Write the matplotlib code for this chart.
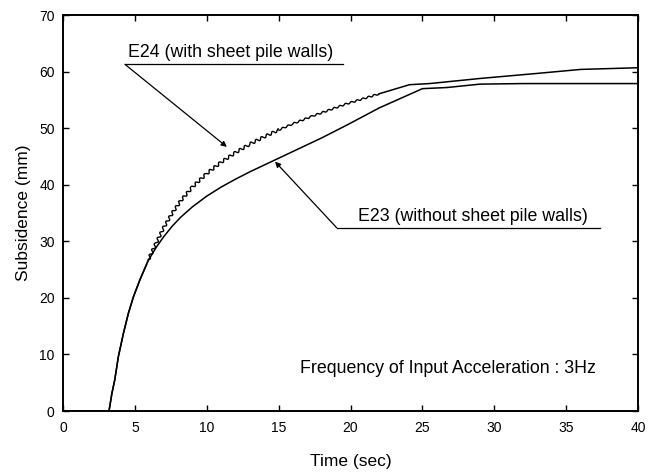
import matplotlib
matplotlib.use("Agg")
import matplotlib.pyplot as plt
import numpy as np

plt.rcParams['font.family'] = ['Liberation Sans', 'DejaVu Sans']

# Data
e24_t = [0.0, 3.2, 3.4, 3.6, 3.85, 4.2, 4.55, 4.9, 5.35, 5.95, 6.5, 7.0, 7.6, 8.2, 9.0,
         10.0, 11.0, 12.0, 13.0, 14.0, 15.0, 16.0, 17.4, 19.7, 22.0, 24.1, 25.5, 29.0,
         33.0, 36.0, 40.0]
e24_s = [0.0, 0.0, 3.1, 5.5, 9.6, 13.7, 17.3, 20.2, 23.2, 26.8, 29.8, 32.4, 35.0, 37.2, 39.6,
         42.0, 44.0, 45.7, 47.2, 48.5, 49.7, 50.8, 52.2, 54.3, 56.1, 57.7, 57.9, 58.8,
         59.7, 60.4, 60.7]
e23_t = [0.0, 3.2, 3.4, 3.6, 3.85, 4.2, 4.55, 4.9, 5.35, 5.95, 6.5, 7.0, 7.6, 8.2, 9.0,
         10.0, 11.0, 12.0, 13.0, 14.0, 15.0, 16.0, 17.0, 18.0, 19.7, 22.0, 25.0, 26.7,
         29.0, 32.0, 40.0]
e23_s = [0.0, 0.0, 3.1, 5.5, 9.6, 13.7, 17.3, 20.2, 23.2, 26.7, 29.0, 30.8, 32.7, 34.3, 36.1,
         38.0, 39.6, 41.0, 42.3, 43.5, 44.7, 45.9, 47.1, 48.3, 50.5, 53.6, 57.0, 57.2,
         57.8, 57.9, 57.9]

x_ticks = [0, 5, 10, 15, 20, 25, 30, 35, 40]
y_ticks = [0, 10, 20, 30, 40, 50, 60, 70]

fig = plt.figure(figsize=(6.61, 4.73), dpi=100)
ax = fig.add_axes([0.0953, 0.131, 0.870, 0.837])

t24 = np.array(e24_t); s24 = np.array(e24_s)
t23 = np.array(e23_t); s23 = np.array(e23_s)

ax.plot(t23, s23, color='black', lw=1.1)

# E24: oscillating part drawn with a sketch (wiggle) effect
pre = t24 <= 5.95
mid1 = (t24 >= 5.95) & (t24 <= 15.0)
mid2 = (t24 >= 15.0) & (t24 <= 22.0)
post = t24 >= 22.0
ax.plot(t24[pre], s24[pre], color='black', lw=1.1)
w1, = ax.plot(t24[mid1], s24[mid1], color='black', lw=1.0)
w1.set_sketch_params(scale=1.5, length=6.0, randomness=1.0)
w2, = ax.plot(t24[mid2], s24[mid2], color='black', lw=1.0)
w2.set_sketch_params(scale=0.8, length=6.0, randomness=1.0)
ax.plot(t24[post], s24[post], color='black', lw=1.1)

ax.set_xlim(0, 40)
ax.set_ylim(0, 70)
ax.set_xticks(x_ticks)
ax.set_yticks(y_ticks)
ax.tick_params(direction='in', length=4, width=1.0, labelsize=10,
               top=True, right=True)
ax.tick_params(axis='x', pad=7.5)
ax.tick_params(axis='y', pad=6)
for sp in ax.spines.values():
    sp.set_linewidth(1.4)

ax.set_xlabel('Time (sec)', fontsize=12.5, labelpad=13)
ax.set_ylabel('Subsidence (mm)', fontsize=12.5, labelpad=6)

# Annotations
ax.plot([4.31, 19.5], [61.3, 61.3], color='black', lw=0.9)
ax.annotate('', xy=(11.4, 46.7), xytext=(4.31, 61.3),
            arrowprops=dict(arrowstyle='-|>', color='black', lw=0.9,
                            mutation_scale=8, shrinkA=0, shrinkB=0))
ax.text(4.52, 62.6, 'E24 (with sheet pile walls)', fontsize=12.8,
        ha='left', va='baseline')

ax.plot([19.04, 37.36], [32.4, 32.4], color='black', lw=0.9)
ax.annotate('', xy=(14.75, 44.1), xytext=(19.04, 32.4),
            arrowprops=dict(arrowstyle='-|>', color='black', lw=0.9,
                            mutation_scale=8, shrinkA=0, shrinkB=0))
ax.text(20.52, 33.6, 'E23 (without sheet pile walls)', fontsize=12.8,
        ha='left', va='baseline')

ax.text(16.49, 6.8, 'Frequency of Input Acceleration : 3Hz', fontsize=12.8,
        ha='left', va='baseline')

fig.savefig('out.png', dpi=100)
